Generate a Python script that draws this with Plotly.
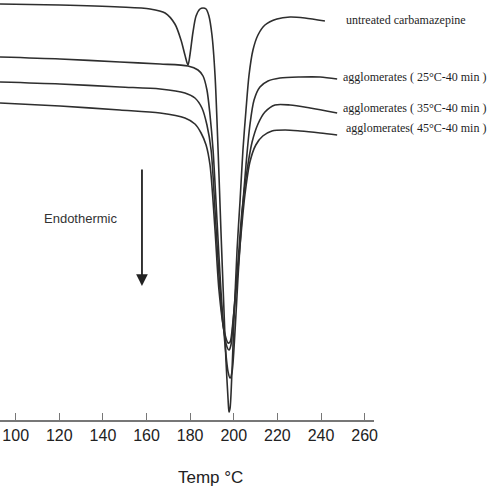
import plotly.graph_objects as go

# Temperature (°C) and heat flow (arbitrary units)
temp_untreated = [92.8, 120.3, 147.8, 161.6, 168.5, 173.0, 175.8, 177.6, 179.0, 179.9, 181.3, 182.7,
                  184.5, 185.9, 187.3, 188.6, 190.0, 191.4, 192.8, 194.1, 195.5, 196.4, 197.4, 197.8,
                  198.3, 199.2, 200.1, 201.5, 202.9, 204.2, 205.6, 207.0, 208.8, 211.1, 214.3, 219.8,
                  225.8, 232.6, 241.8]
hf_untreated = [-0.4, -0.5, -0.7, -0.9, -1.3, -2.4, -4.0, -5.5, -6.5, -5.5, -3.2, -1.6,
                -0.9, -0.8, -0.9, -1.6, -3.5, -7.5, -15.0, -23.0, -31.0, -36.0, -40.0, -41.2,
                -40.8, -37.0, -32.0, -25.0, -20.0, -15.0, -11.0, -7.5, -5.0, -3.5, -2.5, -1.9,
                -1.7, -1.8, -2.1]

temp_25 = [92.8, 120.3, 147.8, 166.2, 179.0, 183.6, 185.9, 187.7, 189.1, 190.5, 192.3, 194.1,
           196.0, 197.4, 198.3, 199.2, 200.6, 202.0, 203.8, 205.6, 207.4, 209.3, 212.0, 215.7,
           221.2, 230.4, 239.6, 247.4]
hf_25 = [-5.7, -5.9, -6.2, -6.4, -6.6, -7.0, -7.6, -9.0, -11.5, -15.0, -22.0, -29.0,
         -34.5, -37.2, -37.8, -37.2, -33.0, -27.5, -21.5, -16.5, -12.5, -10.0, -8.7, -8.1,
         -7.8, -7.7, -7.7, -7.9]

temp_35 = [92.8, 120.3, 147.8, 166.2, 177.6, 182.2, 185.4, 187.7, 189.6, 191.4, 193.2, 195.1,
           196.9, 197.8, 198.7, 200.1, 202.0, 203.8, 206.1, 208.4, 211.1, 214.3, 218.9, 225.8,
           235.0, 247.4]
hf_35 = [-8.2, -8.4, -8.7, -8.9, -9.3, -9.8, -10.8, -12.5, -15.0, -21.0, -27.5, -32.5,
         -34.7, -35.0, -34.5, -31.0, -26.0, -21.0, -17.0, -14.2, -12.4, -11.2, -10.5, -10.5,
         -10.8, -11.3]

temp_45 = [92.8, 120.3, 147.8, 166.2, 177.6, 182.2, 185.0, 187.3, 189.1, 191.4, 193.2, 195.5,
           197.4, 198.3, 199.7, 201.5, 203.3, 205.1, 207.4, 210.1, 213.3, 217.5, 223.5, 230.4,
           239.6, 247.4]
hf_45 = [-10.3, -10.6, -11.0, -11.3, -11.8, -12.4, -13.3, -14.5, -16.5, -23.0, -29.0, -33.0,
         -34.3, -34.2, -32.0, -28.0, -23.5, -19.5, -16.2, -14.5, -13.6, -13.1, -13.0, -13.1,
         -13.3, -13.5]

series_names = ["untreated carbamazepine", "agglomerates ( 25°C-40 min )",
                "agglomerates ( 35°C-40 min )", "agglomerates( 45°C-40 min )"]
label_y = [-2.0, -7.7, -10.8, -12.8]
tick_vals = [100, 120, 140, 160, 180, 200, 220, 240, 260]

X_RANGE = [92.8, 264.3]
Y_RANGE = [-42.0, 0.0]

fig = go.Figure()
line_col = "#2e2e2e"
for t, h, name in [(temp_untreated, hf_untreated, series_names[0]),
                   (temp_25, hf_25, series_names[1]),
                   (temp_35, hf_35, series_names[2]),
                   (temp_45, hf_45, series_names[3])]:
    fig.add_trace(go.Scatter(x=t, y=h, mode="lines", name=name,
                             line=dict(color=line_col, width=1.6, shape="spline", smoothing=0.8),
                             showlegend=False, hoverinfo="skip"))

# curve labels (serif, at right)
for name, ly, lx in zip(series_names, label_y, [0.92, 0.911, 0.911, 0.92]):
    fig.add_annotation(x=lx, xref="paper", y=(ly - Y_RANGE[0]) / (Y_RANGE[1] - Y_RANGE[0]),
                       yref="paper", text=name, showarrow=False, xanchor="left",
                       yanchor="middle",
                       font=dict(family="Liberation Serif, Times New Roman, serif", size=12,
                                 color="#1e1e1e"))

# Endothermic label and arrow
fig.add_annotation(x=0.215, xref="paper", y=(-21.8 - Y_RANGE[0]) / (Y_RANGE[1] - Y_RANGE[0]),
                   yref="paper", text="Endothermic", showarrow=False, xanchor="center",
                   yanchor="middle",
                   font=dict(family="Liberation Sans, Arial, sans-serif", size=13, color="#333333"))
fig.add_annotation(x=157.9, y=-28.6, xref="x", yref="y", ax=157.9, ay=-16.8, axref="x", ayref="y",
                   text="", showarrow=True, arrowhead=2, arrowsize=1.3, arrowwidth=1.8,
                   arrowcolor="#222222")

# axis title
fig.add_annotation(x=0.562, xref="paper", y=-0.136, yref="paper", text="Temp °C",
                   showarrow=False, xanchor="center", yanchor="middle",
                   font=dict(family="Liberation Sans, Arial, sans-serif", size=17, color="#222222"))

fig.update_xaxes(range=X_RANGE, tickvals=tick_vals, ticks="inside", ticklen=7, tickwidth=1,
                 tickcolor="#777777", showline=True, linecolor="#777777", linewidth=2,
                 showgrid=False, zeroline=False,
                 tickfont=dict(family="Liberation Sans, Arial, sans-serif", size=16, color="#222222"))
fig.update_yaxes(range=Y_RANGE, visible=False, showgrid=False, zeroline=False)

fig.update_layout(width=495, height=490, margin=dict(l=0, r=121, t=0, b=70),
                  plot_bgcolor="white", paper_bgcolor="white", hovermode=False)

fig.write_html("out.html", config={"displayModeBar": False},
               post_script="document.body.style.margin='0px';")
